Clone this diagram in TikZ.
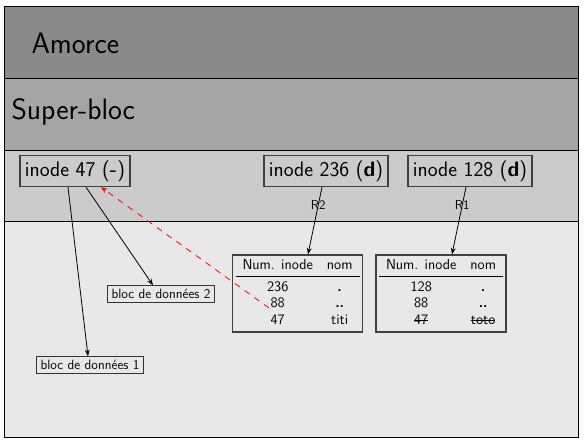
\documentclass[tikz,border=0pt]{standalone}
\usepackage{booktabs}
\usetikzlibrary{arrows.meta,positioning,calc}
\definecolor{amorcegray}{HTML}{8A8A8A}
\definecolor{supergray}{HTML}{A5A5A5}
\definecolor{inodegray}{HTML}{CBCBCB}
\definecolor{datagray}{HTML}{E8E8E8}
\newcommand{\barre}[1]{\setbox0\hbox{#1}\rlap{\rule[0.55ex]{\wd0}{0.8pt}}\box0}
\newcommand{\rep}[2]{%
  \setlength{\tabcolsep}{7pt}%
  \begin{tabular}{cc}
  Num. inode & nom\\ \midrule
  #1 & \textbf{.}\\
  88 & \textbf{..}\\
  #2
  \end{tabular}}

\begin{document}
\begin{tikzpicture}[x=1pt,y=-1pt,>=Stealth,font=\sffamily,
 band/.style={draw,line width=0.9pt},
 inodebox/.style={draw=black!75,line width=1.3pt,fill=inodegray,inner sep=5pt,font=\sffamily\fontsize{21}{24}\selectfont},
 blocbox/.style={draw=black!80,line width=1pt,fill=datagray,inner xsep=4.5pt,inner ysep=3.5pt,font=\sffamily\fontsize{13.5}{15}\selectfont},
 tabbox/.style={draw=black!75,line width=1.3pt,inner sep=3pt,font=\sffamily\fontsize{14.5}{16.5}\selectfont},
 arr/.style={->,line width=0.8pt},
 lbl/.style={font=\sffamily\fontsize{13}{14}\selectfont,inner sep=1pt}]
\useasboundingbox (0,0) rectangle (586,442);
% couches du disque
\draw[band,fill=amorcegray] (4,6) rectangle (578,78);
\draw[band,fill=supergray] (4,78) rectangle (578,150);
\draw[band,fill=inodegray] (4,150) rectangle (578,221);
\draw[band,fill=datagray] (4,221) rectangle (578,437);
\node[anchor=west,font=\sffamily\fontsize{29.5}{32}\selectfont] (amorce) at (28,43) {Amorce};
\node[anchor=west,font=\sffamily\fontsize{29.5}{32}\selectfont] (super) at (8,112) {Super-bloc};
% inodes
\node[inodebox] (i47) at (75,171) {inode 47 (\textbf{-})};
\node[inodebox] (i236) at (326,171) {inode 236 (\textbf{d})};
\node[inodebox] (i128) at (470,171) {inode 128 (\textbf{d})};
% blocs
\node[blocbox] (b2) at (161,294) {bloc de donn\'ees 2};
\node[blocbox] (b1) at (90,365) {bloc de donn\'ees 1};
\node[tabbox] (t1) at (297.5,293.5) {\rep{236}{47 & titi}};
\node[tabbox] (t2) at (441,293.5) {\rep{128}{\barre{47} & \barre{toto}}};
\coordinate (r88) at (269,308);
% liens
\draw[arr] ([xshift=-7pt]i47.south) -- ([xshift=-2pt]b1.north);
\draw[arr] ([xshift=11pt]i47.south) -- ([xshift=-8pt]b2.north);
\draw[arr] ([xshift=-4pt]i236.south) -- node[lbl,pos=0.27] {R2} ([xshift=10.5pt]t1.north);
\draw[arr] ([xshift=-4pt]i128.south) -- node[lbl,pos=0.27] {R1} ([xshift=11pt]t2.north);
\draw[arr,red,dashed,dash pattern=on 6pt off 6pt] (r88) -- ([xshift=26pt]i47.south);
\end{tikzpicture}
\end{document}
